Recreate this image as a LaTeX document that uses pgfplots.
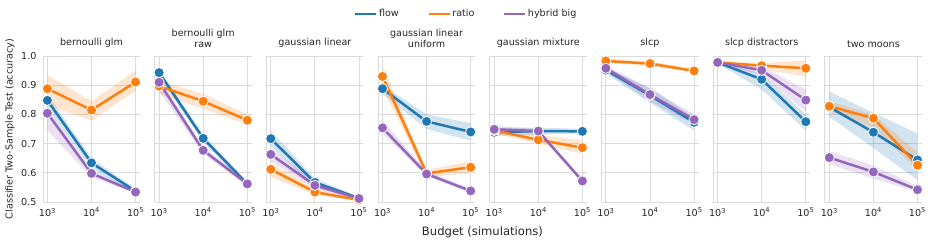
\documentclass[border=0pt]{standalone}
\usepackage{pgfplots}
\pgfplotsset{compat=1.18}
\usepackage{pgfplotstable}
\usepgfplotslibrary{groupplots,fillbetween}
\usepackage{fontspec}
\setmainfont{DejaVu Sans}

\definecolor{cflow}{RGB}{31,119,180}
\definecolor{cratio}{RGB}{255,127,14}
\definecolor{chyb}{RGB}{148,103,189}
\definecolor{ctext}{RGB}{38,38,38}
\definecolor{cgrid}{RGB}{218,218,218}

% columns: x, flow (f), ratio (r), hybrid big (h); each with mean, lo, hi
\pgfplotstableread{
x f flo fhi r rlo rhi h hlo hhi
3 0.848 0.820 0.870 0.888 0.830 0.935 0.804 0.745 0.820
4 0.634 0.615 0.650 0.815 0.780 0.845 0.598 0.585 0.610
5 0.537 0.530 0.545 0.911 0.880 0.950 0.534 0.530 0.540
}\tabA
\pgfplotstableread{
x f flo fhi r rlo rhi h hlo hhi
3 0.943 0.930 0.955 0.897 0.870 0.915 0.910 0.880 0.920
4 0.718 0.705 0.730 0.845 0.820 0.870 0.677 0.665 0.690
5 0.562 0.555 0.570 0.780 0.765 0.800 0.562 0.555 0.570
}\tabB
\pgfplotstableread{
x f flo fhi r rlo rhi h hlo hhi
3 0.717 0.690 0.745 0.612 0.585 0.635 0.663 0.640 0.685
4 0.567 0.550 0.580 0.534 0.525 0.545 0.557 0.545 0.570
5 0.513 0.508 0.518 0.507 0.503 0.511 0.512 0.508 0.516
}\tabC
\pgfplotstableread{
x f flo fhi r rlo rhi h hlo hhi
3 0.888 0.870 0.900 0.930 0.890 0.965 0.754 0.735 0.780
4 0.776 0.750 0.800 0.598 0.585 0.610 0.596 0.590 0.605
5 0.740 0.710 0.770 0.619 0.600 0.640 0.538 0.530 0.545
}\tabD
\pgfplotstableread{
x f flo fhi r rlo rhi h hlo hhi
3 0.739 0.725 0.755 0.745 0.735 0.755 0.749 0.740 0.760
4 0.743 0.730 0.755 0.713 0.700 0.730 0.743 0.735 0.750
5 0.742 0.735 0.750 0.686 0.665 0.710 0.572 0.565 0.580
}\tabE
\pgfplotstableread{
x f flo fhi r rlo rhi h hlo hhi
3 0.952 0.940 0.960 0.983 0.976 0.990 0.958 0.945 0.965
4 0.865 0.840 0.890 0.974 0.967 0.981 0.868 0.845 0.890
5 0.773 0.745 0.790 0.949 0.942 0.956 0.782 0.765 0.800
}\tabF
\pgfplotstableread{
x f flo fhi r rlo rhi h hlo hhi
3 0.978 0.975 0.981 0.978 0.975 0.981 0.978 0.975 0.981
4 0.920 0.885 0.940 0.967 0.955 0.975 0.951 0.935 0.965
5 0.775 0.745 0.800 0.958 0.930 0.985 0.849 0.810 0.885
}\tabG
\pgfplotstableread{
x f flo fhi r rlo rhi h hlo hhi
3 0.825 0.792 0.878 0.828 0.810 0.845 0.652 0.630 0.675
4 0.739 0.685 0.806 0.787 0.755 0.800 0.603 0.580 0.625
5 0.644 0.575 0.735 0.626 0.610 0.670 0.542 0.535 0.555
}\tabH

\newcommand{\band}[3]{%
  \addplot[draw=none, forget plot, name path=#2hi] table[x=x, y=#2hi]{#1};
  \addplot[draw=none, forget plot, name path=#2lo] table[x=x, y=#2lo]{#1};
  \addplot[fill=#3, fill opacity=0.2, draw=none, forget plot] fill between[of=#2hi and #2lo];
}
\newcommand{\ser}[3]{%
  \addplot[color=#3, line width=2.5pt, mark=*, mark size=5.1pt,
    mark options={fill=#3, draw=white, line width=0.8pt}] table[x=x, y=#2]{#1};
}
\newcommand{\panel}[1]{%
  \band{#1}{f}{cflow}\band{#1}{r}{cratio}\band{#1}{h}{chyb}
  \ser{#1}{f}{cflow}\ser{#1}{r}{cratio}\ser{#1}{h}{chyb}
}

\begin{document}
\begin{tikzpicture}
\begin{groupplot}[
  group style={group size=8 by 1, horizontal sep=14.7pt, yticklabels at=edge left},
  scale only axis, width=97pt, height=146pt,
  xmin=2.9, xmax=5.1, ymin=0.5, ymax=1.0,
  xtick={3,4,5},
  xticklabels={10\textsuperscript{3},10\textsuperscript{4},10\textsuperscript{5}},
  ytick={0.5,0.6,0.7,0.8,0.9,1.0},
  /pgf/number format/assume math mode=true,
  yticklabel style={/pgf/number format/fixed, /pgf/number format/precision=1, /pgf/number format/fixed zerofill, xshift=-3pt},
  xticklabel style={yshift=-2.5pt},
  tick label style={font=\fontsize{9.6}{11}\selectfont, text=ctext},
  major tick length=0pt,
  grid=major, major grid style={color=cgrid, line width=0.9pt},
  axis x line*=bottom, axis y line*=left,
  axis line style={color=cgrid, line width=0.9pt},
  title style={font=\fontsize{9.6}{11.5}\selectfont, text=ctext, align=center, yshift=-1.5pt},
  clip=false,
]
\nextgroupplot[title={bernoulli glm},
  ylabel={Classifier Two-Sample Test (accuracy)},
  ylabel style={font=\fontsize{9.6}{11}\selectfont, text=ctext, at={(axis description cs:-0.34,0.5)}, anchor=center},
  legend entries={flow,ratio,hybrid big},
  legend style={at={(axis description cs:4.366,1.288)}, anchor=center, draw=none, fill=none,
    legend columns=3, font=\fontsize{9.6}{11}\selectfont, text=ctext,
    /tikz/every odd column/.append style={column sep=0pt},
    /tikz/every even column/.append style={column sep=27pt}},
  legend image code/.code={\draw[line width=1.5pt] (0pt,0pt) -- (21pt,0pt);},
]
\panel{\tabA}
\nextgroupplot[title={bernoulli glm\\raw}]
\panel{\tabB}
\nextgroupplot[title={gaussian linear}]
\panel{\tabC}
\nextgroupplot[title={gaussian linear\\uniform}]
\panel{\tabD}
\nextgroupplot[title={gaussian mixture}]
\panel{\tabE}
\nextgroupplot[title={slcp}]
\panel{\tabF}
\nextgroupplot[title={slcp distractors}]
\panel{\tabG}
\nextgroupplot[title={two moons}]
\panel{\tabH}
\end{groupplot}
\path (group c4r1.south east) -- (group c5r1.south west) node[midway, yshift=-30pt, font=\fontsize{11.6}{13}\selectfont, text=ctext] {Budget (simulations)};
\pgfresetboundingbox
\path[use as bounding box] (group c1r1.south west) ++(-43pt,-42pt) rectangle ++(934pt,244pt);
\end{tikzpicture}
\end{document}
